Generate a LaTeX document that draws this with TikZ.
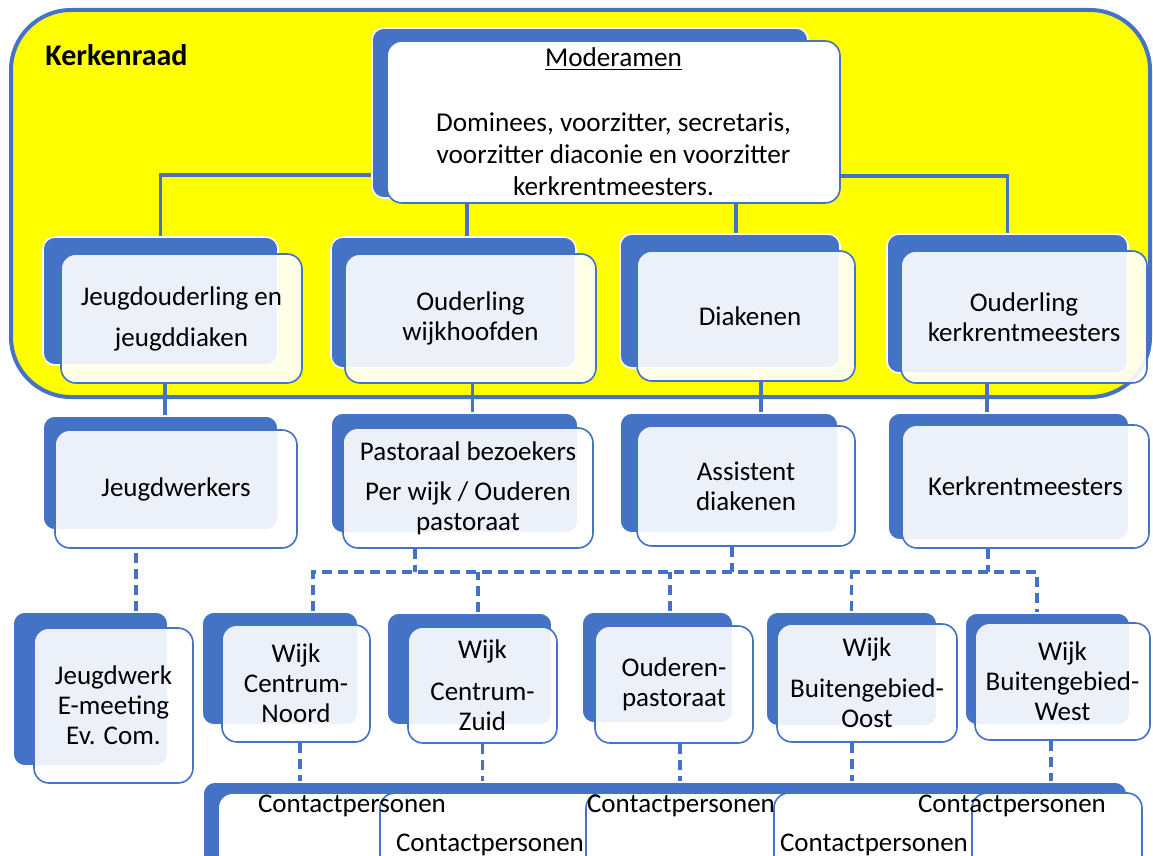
\documentclass[tikz,border=0pt]{standalone}
\usepackage{fontspec}
\setmainfont{Carlito}
\usetikzlibrary{positioning}
\definecolor{orgblue}{HTML}{4472C4}
\definecolor{kryellow}{RGB}{255,255,0}

\begin{document}
\begin{tikzpicture}[x=0.5pt,y=-0.5pt,font=\fontsize{13.5}{15}\selectfont,
		backbox/.style={rectangle,rounded corners=6pt,fill=orgblue,draw=white,line width=0.8pt,inner sep=0pt},
		frontbox/.style={rectangle,rounded corners=7.5pt,draw=orgblue,line width=0.8pt,fill=white,fill opacity=0.9,text opacity=1,align=center,inner sep=0pt},
		link/.style={draw=orgblue,line width=1.6pt},
		dlink/.style={draw=orgblue,line width=1.6pt,dash pattern=on 5pt off 3pt}]
		\clip (0,0) rectangle (1153,856);
		\node[draw=orgblue,fill=kryellow,line width=2pt,rounded corners=30pt,minimum width=569.5pt,minimum height=193.5pt] (kr) at (580.5,203.5) {};
		\node[anchor=west,inner sep=0pt,font=\fontsize{15}{15}\selectfont\bfseries] (krlabel) at (45,55) {Kerkenraad};

		% moderamen
		\node[backbox,minimum width=218pt,minimum height=85pt]								(b0)	at (590,113)		{};
		\node[frontbox,fill opacity=1,minimum width=226.5pt,minimum height=81pt,font=\fontsize{13.6}{16}\selectfont]	(f0)	at (613.5,122)		{\underline{Moderamen}\\[16.5pt]Dominees, voorzitter, secretaris,\\voorzitter diaconie en voorzitter\\kerkrentmeesters.};

		% kerkenraad
		\node[backbox,minimum width=117.5pt,minimum height=64pt]	(b1)	at (160.5,301)		{};
		\node[frontbox,minimum width=120.5pt,minimum height=64.5pt]	(f1)	at (181.5,318.5)	{Jeugdouderling en\\[5.5pt]jeugddiaken};
		\node[backbox,minimum width=122.5pt,minimum height=65.5pt]	(b2)	at (453.5,302.5)	{};
		\node[frontbox,minimum width=125.5pt,minimum height=64.5pt]	(f2)	at (470.5,318.5)	{Ouderling\\wijkhoofden};
		\node[backbox,minimum width=110pt,minimum height=67pt]		(b3)	at (730,301)		{};
		\node[frontbox,minimum width=109pt,minimum height=65pt]		(f3)	at (746,316)		{\hspace{4pt}Diakenen};
		\node[backbox,minimum width=120.5pt,minimum height=69.5pt]	(b4)	at (1007.5,303.5)	{};
		\node[frontbox,minimum width=123pt,minimum height=66pt]		(f4)	at (1024,317)		{Ouderling\\kerkrentmeesters};

		% second row
		\node[backbox,minimum width=117.5pt,minimum height=57pt]	(b5)	at (160.5,473)		{};
		\node[frontbox,minimum width=121pt,minimum height=59pt]		(f5)	at (176,489)		{Jeugdwerkers};
		\node[backbox,minimum width=123.5pt,minimum height=60pt]	(b6)	at (454.5,473)		{};
		\node[frontbox,minimum width=125pt,minimum height=60pt]		(f6)	at (468,488)		{Pastoraal bezoekers\\[5pt]Per wijk / Ouderen\\pastoraat};
		\node[backbox,minimum width=109pt,minimum height=60pt]		(b7)	at (729,473)		{};
		\node[frontbox,minimum width=109pt,minimum height=60pt]		(f7)	at (746,486)		{Assistent\\diakenen};
		\node[backbox,minimum width=120.5pt,minimum height=63.5pt]	(b8)	at (1008.5,476.5)	{};
		\node[frontbox,minimum width=123.5pt,minimum height=61.5pt]	(f8)	at (1025.5,486.5)	{Kerkrentmeesters};

		% third row
		\node[backbox,minimum width=77.5pt,minimum height=77pt]		(b9)	at (90.5,689)		{};
		\node[frontbox,minimum width=79.5pt,minimum height=77.5pt]	(f9)	at (113.5,705.5)	{Jeugdwerk\\E-meeting\\Ev. Com.};
		\node[backbox,minimum width=78pt,minimum height=56.5pt]		(b10)	at (280,668.5)		{};
		\node[frontbox,minimum width=74pt,minimum height=58.5pt]	(f10)	at (296,683.5)		{Wijk\\Centrum-\\Noord};
		\node[backbox,minimum width=82.5pt,minimum height=56pt]		(b11)	at (469.5,669)		{};
		\node[frontbox,minimum width=74.5pt,minimum height=58pt]	(f11)	at (482.5,685)		{Wijk\\[6pt]Centrum-\\Zuid};
		\node[backbox,minimum width=75.5pt,minimum height=55.5pt]	(b12)	at (657.5,667.5)	{};
		\node[frontbox,minimum width=79pt,minimum height=58.5pt]	(f12)	at (674,684.5)		{Ouderen-\\pastoraat};
		\node[backbox,minimum width=85.5pt,minimum height=57pt]		(b13)	at (851.5,669)		{};
		\node[frontbox,minimum width=90pt,minimum height=59pt]		(f13)	at (867,683)		{Wijk\\[5.5pt]Buitengebied-\\Oost};
		\node[backbox,minimum width=82.5pt,minimum height=56pt]		(b14)	at (1047.5,669)		{};
		\node[frontbox,minimum width=87.5pt,minimum height=58.5pt]	(f14)	at (1062.5,681.5)	{Wijk\\Buitengebied-\\West};

		% contactpersonen
		\node[backbox,minimum width=462pt,minimum height=49pt]				(cb)	at (665,831)	{};
		\node[frontbox,fill opacity=1,minimum width=91pt,minimum height=43.5pt]	(c1)	at (309,836.5)	{};
		\node[frontbox,fill opacity=1,minimum width=113pt,minimum height=43.5pt]	(c2)	at (493,836.5)	{};
		\node[frontbox,fill opacity=1,minimum width=104pt,minimum height=43.5pt]	(c3)	at (690,836.5)	{};
		\node[frontbox,fill opacity=1,minimum width=109pt,minimum height=43.5pt]	(c4)	at (883,836.5)	{};
		\node[frontbox,fill opacity=1,minimum width=85pt,minimum height=43.5pt]	(c5)	at (1057,836.5)	{};
		\node	(ct1)	at (352,806)	{Contactpersonen};
		\node	(ct2)	at (490,845)	{Contactpersonen};
		\node	(ct3)	at (681,806)	{Contactpersonen};
		\node	(ct4)	at (874,845)	{Contactpersonen};
		\node	(ct5)	at (1012,806)	{Contactpersonen};

		\draw[link] ([yshift=-31pt]b0.west) -| (b1.north);
		\draw[link] ([yshift=-27pt]f0.east) -| (b4.north);
		\draw[link] ([xshift=6.75pt]b2.north) -- ([xshift=6.75pt]b2.north |- f0.south);
		\draw[link] ([xshift=3pt]b3.north) -- ([xshift=3pt]b3.north |- f0.south);

		\draw[link] ([xshift=2.25pt]b5.north) -- ([xshift=2.25pt]b5.north |- f1.south);
		\draw[link] ([xshift=1pt]f2.south) -- ([xshift=1pt]f2.south |- b6.north);
		\draw[link] ([xshift=7.5pt]f3.south) -- ([xshift=7.5pt]f3.south |- b7.north);
		\draw[link] ([xshift=-18.5pt]f4.south) -- ([xshift=-18.5pt]f4.south |- b8.north);

		\coordinate (bus) at (0,572);
		\draw[dlink] ([xshift=22.75pt]b9.north) -- ([xshift=22.75pt]b9.north |- f5.south);
		\draw[dlink] ([xshift=-26.5pt]f6.south) -- ([xshift=-26.5pt]f6.south |- bus);
		\draw[dlink] ([xshift=-7pt]f7.south) -- ([xshift=-7pt]f7.south |- bus);
		\draw[dlink] ([xshift=-18.75pt]f8.south) -- ([xshift=-18.75pt]f8.south |- bus);
		\draw[dlink] ([xshift=16.5pt]b10.north) |- ([xshift=-5.25pt]b14.north |- bus) -- ([xshift=-5.25pt]b14.north);
		\draw[dlink] ([xshift=4.25pt]b11.north) -- ([xshift=4.25pt]b11.north |- bus);
		\draw[dlink] ([xshift=6.25pt]b12.north) -- ([xshift=6.25pt]b12.north |- bus);
		\draw[dlink] (b13.north) -- (b13.north |- bus);

		\draw[dlink] ([xshift=2pt]f10.south) -- ([xshift=2pt]f10.south |- cb.north);
		\draw[dlink] (f11.south) -- (f11.south |- cb.north);
		\draw[dlink] ([xshift=3pt]f12.south) -- ([xshift=3pt]f12.south |- cb.north);
		\draw[dlink] ([xshift=-7.5pt]f13.south) -- ([xshift=-7.5pt]f13.south |- cb.north);
		\draw[dlink] ([xshift=-5.75pt]f14.south) -- ([xshift=-5.75pt]f14.south |- cb.north);
	\end{tikzpicture}
\end{document}
